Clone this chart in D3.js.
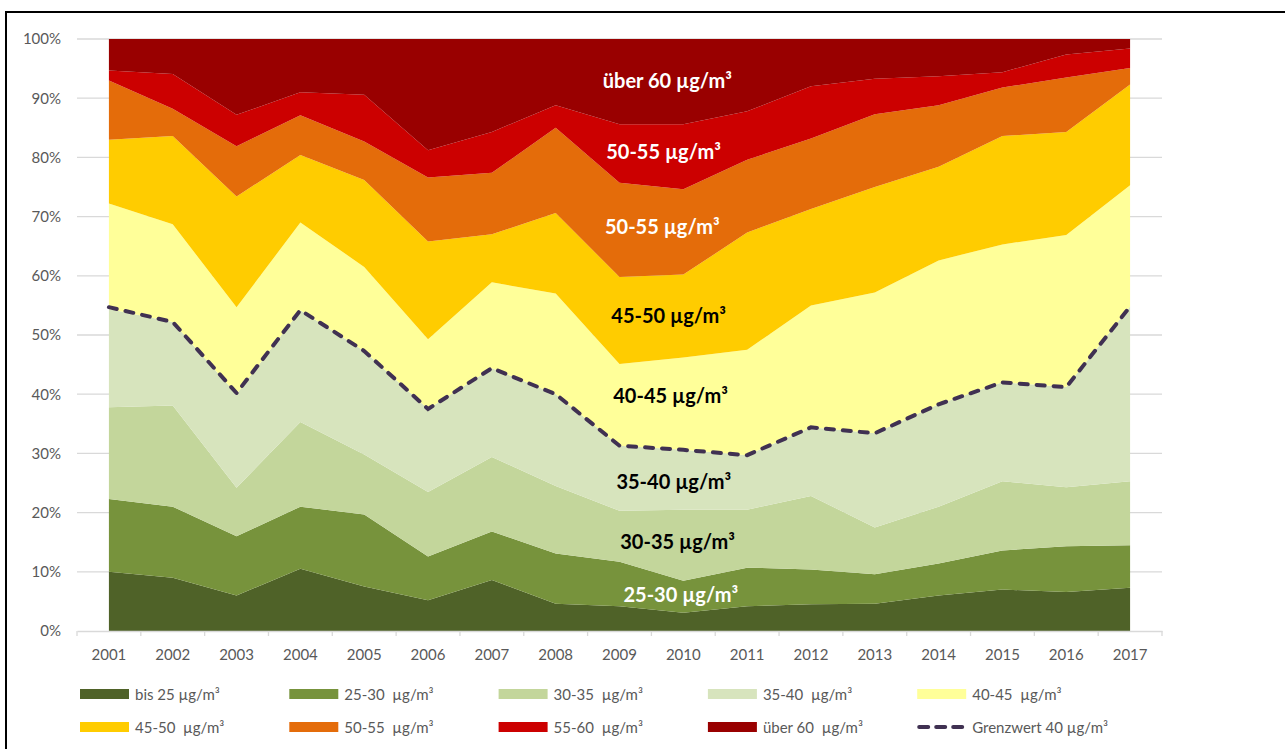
<!DOCTYPE html>
<html>
<head>
<meta charset="utf-8">
<script src="https://cdn.jsdelivr.net/npm/d3@7"></script>
<style>
  body { margin: 0; background: #fff; }
  text { font-family: Lato, "Open Sans", sans-serif; }
</style>
</head>
<body>
<div id="chart"></div>
<script>
// Anteil der Messstellen je Belastungsklasse (NO2 Jahresmittel), in %
const years = ["2001", "2002", "2003", "2004", "2005", "2006", "2007", "2008", "2009",
               "2010", "2011", "2012", "2013", "2014", "2015", "2016", "2017"];

const bis25   = [10.0, 9.0, 6.0, 10.5, 7.5, 5.2, 8.6, 4.6, 4.2, 3.1, 4.2, 4.5, 4.6, 6.0, 7.0, 6.6, 7.3];
const c25_30  = [12.3, 12.0, 10.0, 10.5, 12.2, 7.4, 8.2, 8.5, 7.5, 5.4, 6.5, 5.9, 5.0, 5.4, 6.6, 7.7, 7.2];
const c30_35  = [15.5, 17.1, 8.2, 14.3, 10.1, 10.9, 12.6, 11.4, 8.6, 12.0, 9.8, 12.4, 7.9, 9.6, 11.7, 10.0, 10.8];
const c35_40  = [16.6, 14.1, 15.8, 18.9, 17.5, 14.0, 15.0, 15.5, 11.0, 10.1, 9.2, 11.6, 15.9, 17.3, 16.7, 16.9, 29.5];
const c40_45  = [17.8, 16.5, 14.7, 14.8, 14.2, 11.8, 14.5, 17.0, 13.8, 15.6, 17.8, 20.6, 23.8, 24.3, 23.3, 25.7, 20.5];
const c45_50  = [10.8, 14.9, 18.7, 11.4, 14.7, 16.5, 8.1, 13.6, 14.7, 14.0, 19.8, 16.3, 17.8, 15.8, 18.3, 17.4, 17.0];
const c50_55  = [10.0, 4.6, 8.5, 6.7, 6.5, 10.8, 10.4, 14.4, 15.9, 14.4, 12.3, 11.9, 12.3, 10.4, 8.2, 9.2, 2.8];
const c55_60  = [1.7, 5.9, 5.3, 3.9, 7.9, 4.6, 6.9, 3.8, 9.9, 11.0, 8.2, 8.8, 6.0, 4.9, 2.6, 3.9, 3.3];
const ueber60 = [5.3, 5.9, 12.8, 9.0, 9.4, 18.8, 15.7, 11.2, 14.4, 14.4, 12.2, 8.0, 6.7, 6.3, 5.6, 2.6, 1.6];

// Anteil unter dem Grenzwert (Summe bis 40)
const grenzwert = [54.7, 52.2, 40.2, 54.2, 47.3, 37.5, 44.4, 40.0, 31.3, 30.6, 29.7, 34.4, 33.4, 38.3, 42.0, 41.2, 54.8];

const yTicks = [0, 10, 20, 30, 40, 50, 60, 70, 80, 90, 100];

const series = [
    { key: "bis25",   label: "bis 25 µg/m³",    values: bis25,   color: "#4f6228" },
    { key: "c25_30",  label: "25-30  µg/m³",    values: c25_30,  color: "#77933c" },
    { key: "c30_35",  label: "30-35  µg/m³",    values: c30_35,  color: "#c3d69b" },
    { key: "c35_40",  label: "35-40  µg/m³",    values: c35_40,  color: "#d7e4bd" },
    { key: "c40_45",  label: "40-45  µg/m³",    values: c40_45,  color: "#ffff99" },
    { key: "c45_50",  label: "45-50  µg/m³",    values: c45_50,  color: "#ffcc00" },
    { key: "c50_55",  label: "50-55  µg/m³",    values: c50_55,  color: "#e46c0a" },
    { key: "c55_60",  label: "55-60  µg/m³",    values: c55_60,  color: "#cc0000" },
    { key: "ueber60", label: "über 60  µg/m³",  values: ueber60, color: "#990000" }
];

// labels inside the areas (year position, percent position)
const areaLabels = [
    { text: "über 60 µg/m³", year: 2009.75, pct: 93.1, fill: "#fff" },
    { text: "50-55 µg/m³",   year: 2009.69, pct: 81.1, fill: "#fff" },
    { text: "50-55 µg/m³",   year: 2009.67, pct: 68.4, fill: "#fff" },
    { text: "45-50 µg/m³",   year: 2009.77, pct: 53.3, fill: "#000" },
    { text: "40-45 µg/m³",   year: 2009.80, pct: 39.8, fill: "#000" },
    { text: "35-40 µg/m³",   year: 2009.85, pct: 25.3, fill: "#000" },
    { text: "30-35 µg/m³",   year: 2009.91, pct: 15.2, fill: "#000" },
    { text: "25-30 µg/m³",   year: 2009.96, pct: 6.2,  fill: "#fff" }
];

const table = years.map((yr, i) => {
    const row = { year: yr };
    series.forEach(s => { row[s.key] = s.values[i]; });
    return row;
});

const margin = { top: 39, right: 123, bottom: 118, left: 77 };
const width = 1285 - margin.left - margin.right;
const height = 749 - margin.top - margin.bottom;

const root = d3.select("#chart")
    .append("svg")
    .attr("width", 1285)
    .attr("height", 749);

// outer frame (only top and left edge are in view)
root.append("rect")
    .attr("x", 6)
    .attr("y", 12)
    .attr("width", 1300)
    .attr("height", 800)
    .attr("fill", "none")
    .attr("stroke", "#000")
    .attr("stroke-width", 2);

const svg = root.append("g")
    .attr("transform", `translate(${margin.left},${margin.top})`);

const x = d3.scaleBand()
    .domain(years)
    .range([0, width])
    .padding(0);

const cx = d => x(d) + x.bandwidth() / 2;

const xYear = d3.scaleLinear()
    .domain([2001, 2017])
    .range([cx("2001"), cx("2017")]);

const y = d3.scaleLinear()
    .domain([0, 100])
    .range([height, 0]);

// gridlines
svg.append("g")
    .selectAll("line")
    .data(yTicks.slice(1))
    .enter()
    .append("line")
    .attr("x1", 0)
    .attr("x2", width)
    .attr("y1", d => y(d))
    .attr("y2", d => y(d))
    .attr("stroke", "#d9d9d9")
    .attr("stroke-width", 1.3);

// stacked areas
const stack = d3.stack().keys(series.map(s => s.key));
const layers = stack(table);

const area = d3.area()
    .x(d => cx(d.data.year))
    .y0(d => y(d[0]))
    .y1(d => y(d[1]));

svg.selectAll(".layer")
    .data(layers)
    .enter()
    .append("path")
    .attr("class", "layer")
    .attr("d", area)
    .attr("fill", (d, i) => series[i].color);

// Grenzwert line
const line = d3.line()
    .x((d, i) => cx(years[i]))
    .y(d => y(d));

svg.append("path")
    .datum(grenzwert)
    .attr("d", line)
    .attr("fill", "none")
    .attr("stroke", "#403152")
    .attr("stroke-width", 4)
    .attr("stroke-linecap", "round")
    .attr("stroke-dasharray", "8,9");

// x axis
const xAxis = svg.append("g")
    .attr("transform", `translate(0,${height})`)
    .call(d3.axisBottom(x).tickSize(0).tickPadding(18));
xAxis.select(".domain").attr("stroke", "#d9d9d9").attr("stroke-width", 1.3);
xAxis.selectAll("text")
    .attr("fill", "#595959")
    .style("font-size", "15px")
    .style("font-family", "Lato, sans-serif");

// tick marks between categories
svg.append("g")
    .selectAll("line")
    .data(years.concat(["end"]))
    .enter()
    .append("line")
    .attr("x1", (d, i) => i < years.length ? x(d) : width)
    .attr("x2", (d, i) => i < years.length ? x(d) : width)
    .attr("y1", height)
    .attr("y2", height + 5)
    .attr("stroke", "#d9d9d9")
    .attr("stroke-width", 1.3);

// y axis labels
const yAxis = svg.append("g")
    .call(d3.axisLeft(y).tickValues(yTicks).tickSize(0).tickPadding(16).tickFormat(d => d + "%"));
yAxis.select(".domain").remove();
yAxis.selectAll("text")
    .attr("fill", "#595959")
    .style("font-size", "15px")
    .style("font-family", "Lato, sans-serif");

// labels inside areas
svg.selectAll(".area-label")
    .data(areaLabels)
    .enter()
    .append("text")
    .attr("class", "area-label")
    .attr("x", d => xYear(d.year))
    .attr("y", d => y(d.pct))
    .attr("text-anchor", "middle")
    .attr("dominant-baseline", "central")
    .attr("fill", d => d.fill)
    .style("font-size", "20px")
    .style("font-weight", "bold")
    .text(d => d.text);

// legend
const legendItems = series.map(s => ({ label: s.label, color: s.color, dashed: false }))
    .concat([{ label: "Grenzwert 40 µg/m³", color: "#403152", dashed: true }]);

const legend = root.append("g")
    .attr("transform", "translate(80,694)");

const item = legend.selectAll(".item")
    .data(legendItems)
    .enter()
    .append("g")
    .attr("class", "item")
    .attr("transform", (d, i) => `translate(${(i % 5) * 209.3},${Math.floor(i / 5) * 33})`);

item.filter(d => !d.dashed)
    .append("rect")
    .attr("x", 0)
    .attr("y", -5)
    .attr("width", 49)
    .attr("height", 10)
    .attr("fill", d => d.color);

item.filter(d => d.dashed)
    .append("line")
    .attr("x1", 2)
    .attr("x2", 49)
    .attr("y1", 0)
    .attr("y2", 0)
    .attr("stroke", d => d.color)
    .attr("stroke-width", 4)
    .attr("stroke-linecap", "round")
    .attr("stroke-dasharray", "9,8");

item.append("text")
    .attr("x", 55)
    .attr("y", 0)
    .attr("dominant-baseline", "central")
    .attr("fill", "#595959")
    .style("font-size", "15px")
    .style("white-space", "pre")
    .text(d => d.label);
</script>
</body>
</html>
